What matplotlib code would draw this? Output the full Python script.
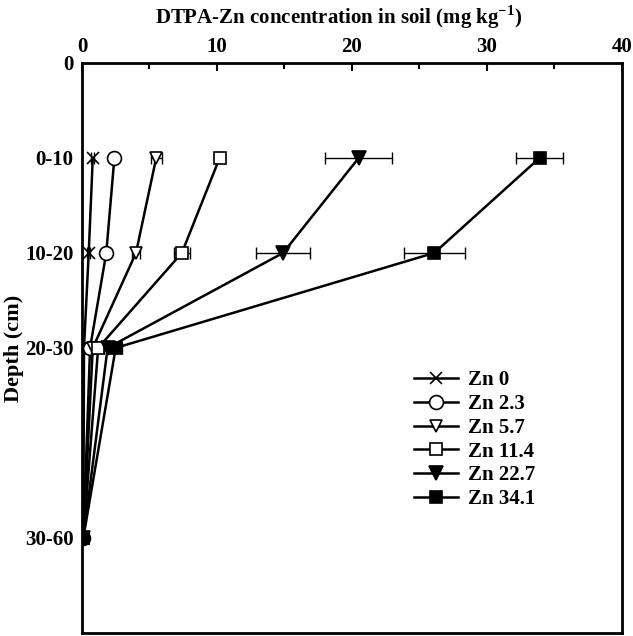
import numpy as np
import matplotlib
matplotlib.use("Agg")
import matplotlib.pyplot as plt
from matplotlib.ticker import MultipleLocator

plt.rcParams['font.family'] = ['Liberation Serif', 'DejaVu Serif']
plt.rcParams['font.weight'] = 'bold'
plt.rcParams['mathtext.fontset'] = 'custom'
plt.rcParams['mathtext.rm'] = 'Liberation Serif:bold'

# depth positions and labels
depth = [10, 20, 30, 50]
depth_ticks = [0, 10, 20, 30, 50]
depth_labels = ['0', '0-10', '10-20', '20-30', '30-60']

labels = ['Zn 0', 'Zn 2.3', 'Zn 5.7', 'Zn 11.4', 'Zn 22.7', 'Zn 34.1']
zn0 = [0.8, 0.5, 0.15, 0.1]
zn23 = [2.4, 1.8, 0.6, 0.1]
zn57 = [5.5, 4.0, 0.8, 0.1]
zn114 = [10.2, 7.4, 1.2, 0.1]
zn227 = [20.5, 14.9, 1.9, 0.1]
zn341 = [33.9, 26.1, 2.5, 0.1]

err0 = [0.1, 0.1, 0.05, 0.02]
err23 = [0.2, 0.2, 0.1, 0.02]
err57 = [0.4, 0.3, 0.1, 0.02]
err114 = [0.3, 0.6, 0.2, 0.02]
err227 = [2.5, 2.0, 0.3, 0.02]
err341 = [1.75, 2.25, 0.5, 0.02]

series = [zn0, zn23, zn57, zn114, zn227, zn341]
errs = [err0, err23, err57, err114, err227, err341]
markers = ['x', 'o', 'v', 's', 'v', 's']
faces = ['black', 'white', 'white', 'white', 'black', 'black']
sizes = [9, 10, 9, 9, 10, 9]

fig = plt.figure(figsize=(6.33, 6.36), dpi=100)
ax = fig.add_axes([0.1295, 0.005, 0.853, 0.896])

for vals, e, m, fc, ms, lab in zip(series, errs, markers, faces, sizes, labels):
    ax.errorbar(vals, depth, xerr=e, fmt='none', ecolor='black',
                elinewidth=1, capsize=4, capthick=1)
    ax.plot(vals, depth, color='black', linewidth=1.8,
            marker=m, markersize=ms, markerfacecolor=fc,
            markeredgecolor='black', markeredgewidth=1.2, label=lab)

ax.set_xlim(0, 40)
ax.set_ylim(60, 0)
ax.xaxis.set_ticks_position('top')
ax.xaxis.set_label_position('top')
ax.set_xticks([0, 10, 20, 30, 40])
ax.xaxis.set_minor_locator(MultipleLocator(5))
ax.tick_params(axis='x', which='major', direction='in', length=6, width=1.5,
               labelsize=15, pad=4)
ax.tick_params(axis='x', which='minor', direction='in', length=4, width=1.5)
ax.set_yticks(depth_ticks)
ax.set_yticklabels(depth_labels)
ax.tick_params(axis='y', length=0, labelsize=15, pad=6)
for sp in ax.spines.values():
    sp.set_linewidth(2)

ax.set_xlabel('DTPA-Zn concentration in soil (mg kg$^{-1}$)', fontsize=15,
              fontweight='bold', va='center')
ax.xaxis.set_label_coords(0.475, 1.08)
ax.set_ylabel('Depth (cm)', fontsize=16, fontweight='bold', va='center')
ax.yaxis.set_label_coords(-0.125, 0.5)

leg = ax.legend(loc='upper left', bbox_to_anchor=(0.6, 0.475), frameon=False,
                fontsize=15, handlelength=2.1, labelspacing=0.18,
                handletextpad=0.5, borderaxespad=0)

fig.savefig('out.png', dpi=100)
